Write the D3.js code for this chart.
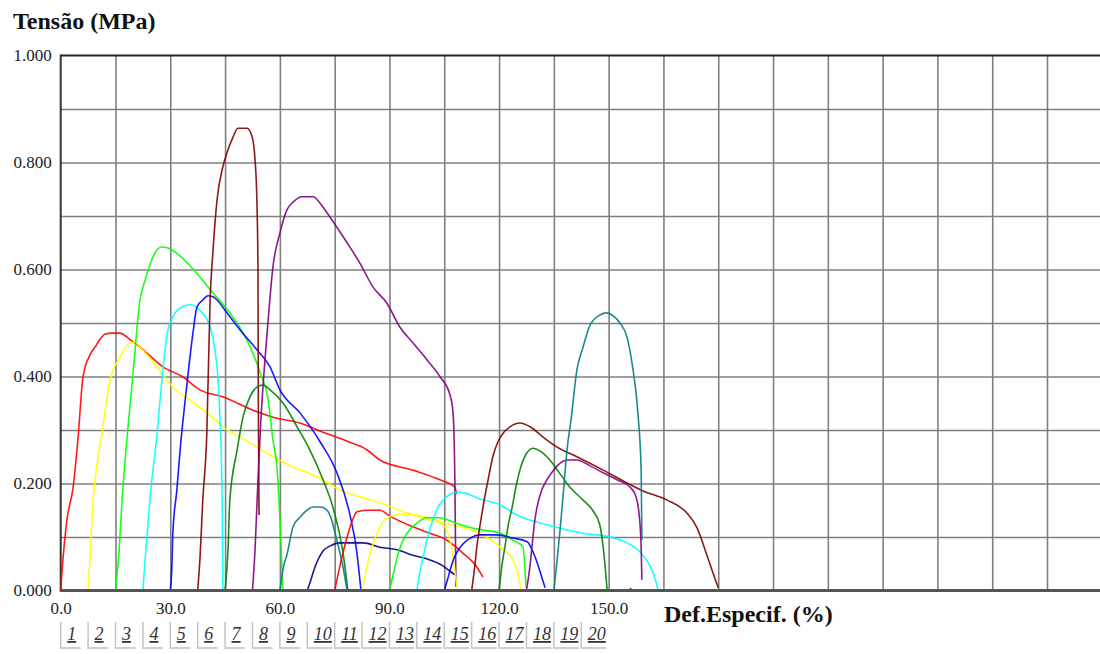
<!DOCTYPE html>
<html><head><meta charset="utf-8">
<script src="https://cdn.jsdelivr.net/npm/d3@7"></script>
<style>body{margin:0;background:#fff;} svg{display:block}</style>
</head><body><svg id="c" width="1100" height="654"></svg>
<script>
// ---------- data ----------
const specimens = ["1","2","3","4","5","6","7","8","9","10","11","12","13","14","15","16","17","18","19","20"];
const seriesColors = ["#ff0000","#ffff00","#00ff00","#00ffff","#0000ff","#800000","#008000","#800080","#008080","#000080",
                      "#ff0000","#ffff00","#00ff00","#00ffff","#0000ff","#800000","#008000","#800080","#008080","#000080"];
const xTickValues = [0,30,60,90,120,150];
const xTickLabels = ["0.0","30.0","60.0","90.0","120.0","150.0"];
const yTickValues = [0,0.2,0.4,0.6,0.8,1.0];
const yTickLabels = ["0.000","0.200","0.400","0.600","0.800","1.000"];
const xTitle = "Def.Especif. (%)";
const yTitle = "Tensão (MPa)";

// [strain %, stress MPa]
const s1 = [[0,0],[0.6,0.057],[1.7,0.132],[3.4,0.193],[4.7,0.281],[6.1,0.399],[8.0,0.440],[9.4,0.455],[12.1,0.479],[14.0,0.481],[16.2,0.481],[19.0,0.469],[21.7,0.455],[28.0,0.418],[33.5,0.399],[38.1,0.375],[44.4,0.362],[52.6,0.337],[58.1,0.324],[65.5,0.313],[71.8,0.296],[78.4,0.279],[83.8,0.263],[87.4,0.244],[96.4,0.225],[103.8,0.207],[107.9,0.193],[108.4,0.180]];
const s2 = [[7.5,0],[8.0,0.057],[8.9,0.169],[9.9,0.235],[11.3,0.294],[13.5,0.393],[16.2,0.436],[19.0,0.463],[20.3,0.464],[21.7,0.455],[26.4,0.418],[30.7,0.380],[35.4,0.356],[40.1,0.332],[44.4,0.306],[49.1,0.287],[53.7,0.268],[58.1,0.250],[63.6,0.231],[70.2,0.212],[76.5,0.188],[81.9,0.175],[87.4,0.164],[94.8,0.145],[101.1,0.132],[109.3,0.119],[114.8,0.107],[120.3,0.081],[123.8,0.057],[125.7,0.014],[126.0,0]];
const s3 = [[15,0],[16.0,0.076],[16.8,0.169],[18.1,0.281],[19.8,0.406],[21.7,0.543],[23.1,0.580],[24.4,0.608],[25.8,0.631],[27.7,0.642],[29.4,0.640],[32.7,0.625],[38.1,0.586],[41.7,0.556],[46.3,0.519],[51.0,0.468],[54.6,0.407],[56.8,0.356],[58.1,0.281],[59.2,0.231],[60.0,0.137],[60.8,0]];
const s4 = [[22.5,0],[23.1,0.057],[24.4,0.169],[26.4,0.294],[27.7,0.393],[29.1,0.478],[30.7,0.511],[32.7,0.528],[35.4,0.534],[38.1,0.524],[40.9,0.493],[42.2,0.450],[43.1,0.393],[43.6,0.324],[44.2,0.169],[44.4,0]];
const s5 = [[30,0],[30.5,0.057],[30.7,0.107],[31.8,0.188],[32.7,0.263],[34.6,0.388],[36.2,0.481],[37.3,0.530],[38.9,0.543],[40.3,0.551],[41.7,0.549],[42.8,0.543],[45.5,0.519],[49.1,0.487],[53.7,0.450],[57.3,0.418],[60.0,0.375],[65.5,0.332],[71.0,0.278],[75.6,0.220],[79.2,0.141],[81.1,0.070],[81.9,0.020],[82.2,0]];
const s6 = [[37.5,0],[38.1,0.057],[38.9,0.169],[40.0,0.294],[40.9,0.543],[41.7,0.636],[42.8,0.730],[44.4,0.792],[45.5,0.818],[47.2,0.848],[48.5,0.864],[51.0,0.864],[52.4,0.848],[53.2,0.805],[53.7,0.730],[54.0,0.605],[54.1,0.356],[54.3,0.141]];
const s7 = [[45,0],[45.8,0.076],[46.3,0.169],[48.3,0.263],[49.9,0.324],[51.8,0.362],[53.7,0.380],[55.4,0.384],[57.3,0.375],[60.9,0.350],[64.7,0.306],[68.2,0.263],[71.8,0.207],[74.5,0.156],[77.3,0.070],[78.6,0]];
const s8 = [[52.5,0],[53.2,0.076],[54.0,0.207],[54.8,0.319],[55.7,0.412],[56.5,0.481],[58.1,0.605],[60.0,0.668],[61.9,0.711],[63.6,0.726],[66.1,0.736],[69.1,0.736],[71.0,0.724],[72.9,0.706],[75.6,0.679],[78.4,0.650],[81.9,0.612],[85.5,0.567],[89.3,0.537],[92.9,0.492],[96.4,0.463],[100.3,0.431],[103.8,0.400],[106.6,0.365],[107.4,0.332],[107.9,0.207],[108.2,0.007]];
const s9 = [[60,0],[61.1,0.048],[61.9,0.066],[63.6,0.119],[65.5,0.137],[67.4,0.150],[69.1,0.156],[71.0,0.156],[72.6,0.152],[73.7,0.141],[75.6,0.094],[77.3,0.043],[78.4,0]];
const s10 = [[67.5,0],[68.5,0.020],[69.3,0.038],[70.4,0.057],[71.8,0.074],[73.7,0.083],[76.5,0.089],[82.8,0.089],[87.4,0.081],[92.1,0.076],[96.4,0.066],[101.1,0.057],[104.6,0.046],[106.6,0.036],[107.9,0.029]];
const s11 = [[75,0],[76.5,0.048],[78.4,0.100],[79.7,0.128],[81.1,0.147],[83.6,0.150],[87.4,0.150],[90.1,0.139],[96.4,0.119],[101.1,0.107],[105.7,0.094],[110.1,0.070],[113.9,0.044],[115.6,0.025]];
const s12 = [[82.5,0],[83.6,0.038],[84.7,0.070],[86.1,0.098],[87.4,0.119],[89.0,0.134],[91.5,0.141],[95.6,0.143],[99.7,0.137],[103.8,0.128],[105.7,0.113],[107.1,0.076],[107.9,0.038],[108.5,0.005]];
const s13 = [[90,0],[91.0,0.029],[92.1,0.062],[93.4,0.089],[94.8,0.107],[97.5,0.126],[100.3,0.136],[103.8,0.136],[107.4,0.128],[111.2,0.119],[115.6,0.113],[120.3,0.107],[123.8,0.094],[126.6,0.081],[127.1,0.038],[127.4,0.005]];
const s14 = [[97.5,0],[98.4,0.038],[99.2,0.062],[100.6,0.104],[101.9,0.132],[103.3,0.156],[104.7,0.169],[106.6,0.180],[108.8,0.184],[110.7,0.182],[114.8,0.171],[120.3,0.160],[124.9,0.141],[134.0,0.121],[143.0,0.107],[150.4,0.100],[155.0,0.089],[158.6,0.072],[161.3,0.046],[163.2,0.010],[163.5,0]];
const s15 = [[105,0],[106.0,0.023],[106.6,0.038],[107.7,0.061],[108.5,0.072],[110.1,0.087],[112.1,0.098],[114.8,0.104],[119.4,0.104],[123.8,0.098],[127.7,0.091],[129.3,0.072],[130.4,0.053],[131.5,0.029],[132.6,0.005]];
const s16 = [[112.5,0],[113.4,0.048],[113.9,0.081],[114.8,0.122],[115.6,0.156],[117.0,0.207],[118.3,0.250],[119.7,0.278],[121.1,0.294],[123.0,0.306],[125.7,0.313],[128.5,0.306],[132.0,0.287],[135.9,0.268],[141.3,0.250],[148.5,0.225],[155.0,0.201],[159.4,0.186],[166.0,0.169],[171.4,0.145],[174.2,0.117],[176.9,0.066],[178.3,0.038],[180.0,0.005]];
const s17 = [[120,0],[120.8,0.048],[121.6,0.081],[122.5,0.122],[123.6,0.156],[124.6,0.193],[125.7,0.225],[127.6,0.257],[129.3,0.266],[131.2,0.261],[133.9,0.244],[136.7,0.218],[139.4,0.193],[143.0,0.169],[145.7,0.149],[147.6,0.122],[148.5,0.081],[149.0,0.048],[149.6,0]];
const s18 = [[127.5,0],[128.5,0.048],[129.0,0.081],[129.8,0.132],[130.4,0.156],[131.7,0.188],[133.1,0.207],[134.5,0.221],[135.9,0.233],[138.6,0.244],[141.3,0.244],[144.9,0.233],[148.5,0.220],[152.3,0.207],[155.9,0.193],[157.5,0.175],[158.3,0.145],[158.9,0.081],[159.1,0.020]];
const s19 = [[135,0],[135.9,0.057],[136.7,0.113],[137.5,0.175],[138.6,0.263],[139.7,0.319],[141.3,0.412],[143.0,0.455],[144.9,0.496],[147.6,0.515],[149.5,0.519],[150.9,0.515],[153.1,0.500],[155.0,0.474],[156.4,0.425],[158.0,0.332],[158.9,0.225],[159.1,0.094]];
const s20 = [[155.5,0],[156.2,0.004]];
const allSeries = [s1,s2,s3,s4,s5,s6,s7,s8,s9,s10,s11,s12,s13,s14,s15,s16,s17,s18,s19,s20];
const specimenOffset = 7.5; // strain offset between consecutive specimens (button placement)

// ---------- layout ----------
const svg = d3.select("#c");
const X0 = 60.7, PX_PER_UNIT = 3.653, Y0 = 590.5, Y1 = 55.5;
const xMax = 285;
const x = d3.scaleLinear().domain([0, xMax]).range([X0, X0 + xMax * PX_PER_UNIT]);
const y = d3.scaleLinear().domain([0, 1]).range([Y0, Y1]);
const serif = "'Liberation Serif','Times New Roman',serif";

// grid
const gridColor = "#7f7f7f";
const gx = svg.append("g").attr("transform", `translate(0,${Y0})`)
  .call(d3.axisBottom(x).tickValues(d3.range(15, xMax + 1, 15)).tickSize(-(Y0 - Y1)).tickFormat(""));
gx.select(".domain").remove();
gx.selectAll("line").attr("stroke", gridColor).attr("stroke-width", 1.6);
const gy = svg.append("g").attr("transform", `translate(${X0},0)`)
  .call(d3.axisLeft(y).tickValues(d3.range(1, 10).map(d => d / 10)).tickSize(-(1100 - X0)).tickFormat(""));
gy.select(".domain").remove();
gy.selectAll("line").attr("stroke", gridColor).attr("stroke-width", 1.6);

// frame
svg.append("line").attr("x1", X0).attr("x2", 1100).attr("y1", Y1).attr("y2", Y1).attr("stroke", "#222").attr("stroke-width", 2);
svg.append("line").attr("x1", X0).attr("x2", X0).attr("y1", Y1 - 1).attr("y2", Y0).attr("stroke", "#333").attr("stroke-width", 2);

// curves
const line = d3.line().x(d => x(d[0])).y(d => y(d[1])).curve(d3.curveMonotoneX);
svg.append("g").selectAll("path").data(allSeries).join("path")
  .attr("d", line)
  .attr("fill", "none")
  .attr("stroke", (d, i) => seriesColors[i])
  .attr("stroke-width", 1.6)
  .attr("stroke-linejoin", "round")
  .attr("opacity", 0.9);

// bottom axis line
svg.append("line").attr("x1", X0 - 1).attr("x2", 1100).attr("y1", Y0).attr("y2", Y0).attr("stroke", "#555").attr("stroke-width", 3);

// axis labels
const ax = svg.append("g").attr("transform", `translate(0,${Y0})`)
  .call(d3.axisBottom(x).tickValues(xTickValues).tickFormat((d, i) => xTickLabels[i]).tickSize(0).tickPadding(11));
ax.select(".domain").remove();
ax.selectAll("text").attr("font-family", serif).attr("font-size", 17).attr("fill", "#222");
const ay = svg.append("g").attr("transform", `translate(${X0},0)`)
  .call(d3.axisLeft(y).tickValues(yTickValues).tickFormat((d, i) => yTickLabels[i]).tickSize(0).tickPadding(9));
ay.select(".domain").remove();
ay.selectAll("text").attr("font-family", serif).attr("font-size", 17).attr("fill", "#222");

// titles
svg.append("text").attr("x", 13).attr("y", 29).text(yTitle)
  .attr("font-family", serif).attr("font-weight", "bold").attr("font-size", 24).attr("fill", "#111");
svg.append("text").attr("x", 664).attr("y", 622).text(xTitle)
  .attr("font-family", serif).attr("font-weight", "bold").attr("font-size", 24).attr("fill", "#111");

// specimen buttons
const btn = svg.append("g").selectAll("g").data(specimens).join("g")
  .attr("transform", (d, i) => `translate(${x(i * specimenOffset)},0)`);
btn.append("line").attr("x1", 0).attr("x2", 0).attr("y1", 622).attr("y2", 649).attr("stroke", "#c4c4c4").attr("stroke-width", 1.5);
btn.append("line").attr("x1", 0).attr("x2", d => d.length > 1 ? 25 : 20).attr("y1", 648).attr("y2", 648).attr("stroke", "#cfcfcf").attr("stroke-width", 2);
btn.append("text").attr("x", 6.5).attr("y", 640).text(d => d)
  .attr("font-family", serif).attr("font-style", "italic").attr("font-size", 18)
  .attr("text-decoration", "underline").attr("fill", "#333");
</script></body></html>
